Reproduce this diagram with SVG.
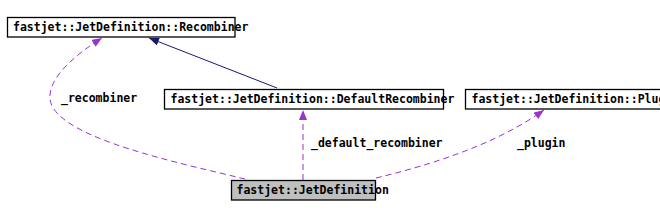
<svg xmlns="http://www.w3.org/2000/svg" width="660" height="217" viewBox="0 0 660 217">
<style>
.box{fill:#ffffff;stroke:#000000;stroke-width:1.3}
.main{fill:#bfbfbf;stroke:#000000;stroke-width:1.3}
text{font-family:"DejaVu Sans Mono","Liberation Mono",monospace;font-weight:bold;font-size:11.5px;fill:#000000}
.inh{fill:none;stroke:#191970;stroke-width:1}
.use{fill:none;stroke:#9a32cd;stroke-width:1;stroke-dasharray:6,4}
</style>
<defs>
<marker id="ah-navy" viewBox="0 0 10 8" refX="10" refY="4" markerWidth="10" markerHeight="8" markerUnits="userSpaceOnUse" orient="auto">
<path d="M0,0 L10,4 L0,8 Z" fill="#191970"/>
</marker>
<marker id="ah-purple" viewBox="0 0 10 8" refX="10" refY="4" markerWidth="10" markerHeight="8" markerUnits="userSpaceOnUse" orient="auto">
<path d="M0,0 L10,4 L0,8 Z" fill="#9a32cd"/>
</marker>
</defs>
<rect width="660" height="217" fill="#ffffff"/>
<g id="connectors">
<path class="inh" d="M277,88 L149,38" marker-end="url(#ah-navy)"/>
<path class="use" d="M245,179 C175,162 70,140 52,106 C42,84 70,58 102,38" marker-end="url(#ah-purple)"/>
<path class="use" d="M303,180 L303,110" marker-end="url(#ah-purple)"/>
<path class="use" d="M376,178 C430,165 495,145 544,110" marker-end="url(#ah-purple)"/>
<text x="61" y="102">_recombiner</text>
<text x="311" y="147">_default_recombiner</text>
<text x="517" y="147">_plugin</text>
</g>
<g id="recombiner">
<rect class="box" x="7.5" y="17.5" width="227.5" height="19.5"/>
<text x="13" y="31">fastjet::JetDefinition::Recombiner</text>
</g>
<g id="default-recombiner">
<rect class="box" x="164.5" y="89.5" width="279" height="19.5"/>
<text x="170.5" y="103">fastjet::JetDefinition::DefaultRecombiner</text>
</g>
<g id="plugin">
<rect class="box" x="465.5" y="89.5" width="260" height="19.5"/>
<text x="471.5" y="103">fastjet::JetDefinition::Plugin</text>
</g>
<g id="jetdefinition">
<rect class="main" x="231.5" y="180.5" width="144" height="19.5"/>
<text x="236.5" y="194">fastjet::JetDefinition</text>
</g>
</svg>
